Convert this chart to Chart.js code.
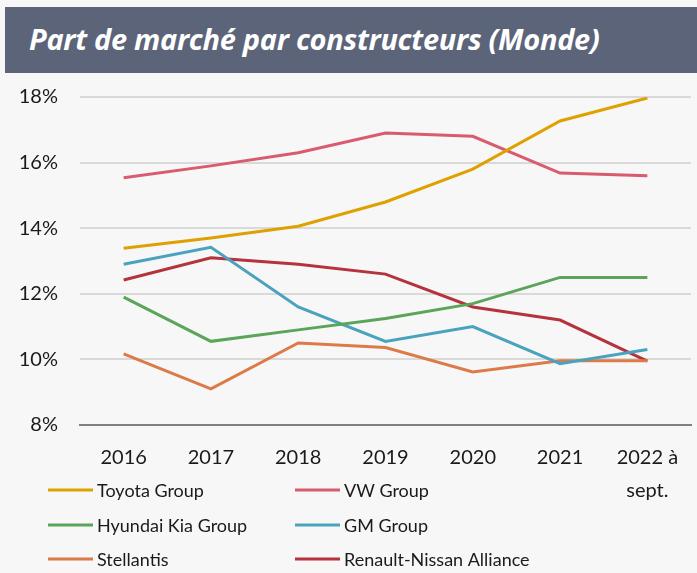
<!DOCTYPE html>
<html>
<head>
<meta charset="utf-8">
<script src="https://cdn.jsdelivr.net/npm/chart.js@4.4.0/dist/chart.umd.min.js"></script>
<style>
  body { margin: 0; background: #f7f7f7; width: 697px; height: 573px; overflow: hidden; }
  #title {
    position: absolute; left: 5px; top: 7px; width: 692px; height: 66px;
    background: #5b6479; color: #fff;
    font: italic 700 29px "Open Sans", sans-serif;
    line-height: 64px; padding-left: 24px; box-sizing: border-box;
    letter-spacing: -0.3px;
  }
  #wrap { position: absolute; left: 0; top: 73px; width: 697px; height: 500px; }
</style>
</head>
<body>
<div id="title">Part de marché par constructeurs (Monde)</div>
<div id="wrap"><canvas id="chart"></canvas></div>
<script>
const years = ['2016', '2017', '2018', '2019', '2020', '2021', ['2022 à', 'sept.']];
const toyota = [13.39, 13.7, 14.06, 14.8, 15.8, 17.27, 17.97];
const vw = [15.54, 15.9, 16.3, 16.9, 16.8, 15.68, 15.6];
const hyundaiKia = [11.9, 10.55, 10.9, 11.25, 11.7, 12.5, 12.5];
const gm = [12.9, 13.42, 11.6, 10.55, 11.0, 9.87, 10.3];
const stellantis = [10.17, 9.1, 10.5, 10.36, 9.62, 9.96, 9.96];
const renaultNissan = [12.42, 13.1, 12.9, 12.6, 11.6, 11.2, 9.95];

const FONT = 'Lato, "Open Sans", sans-serif';

function line(label, data, color) {
  return { label: label, data: data, borderColor: color, backgroundColor: color,
    borderWidth: 3, pointRadius: 0, tension: 0, fill: false };
}

// legend in two columns, like the original
const gridLegend = {
  id: 'gridLegend',
  afterDraw(chart) {
    const ctx = chart.ctx;
    const cols = [48, 295];
    const rows = [417, 452, 486];
    ctx.save();
    ctx.font = '18px ' + FONT;
    ctx.textBaseline = 'middle';
    ctx.fillStyle = '#1a1a1a';
    chart.data.datasets.forEach((ds, i) => {
      const x = cols[i % 2], y = rows[Math.floor(i / 2)];
      ctx.strokeStyle = ds.borderColor;
      ctx.lineWidth = 3;
      ctx.beginPath();
      ctx.moveTo(x, y);
      ctx.lineTo(x + 45, y);
      ctx.stroke();
      ctx.fillText(ds.label, x + 49, y + 1);
    });
    ctx.restore();
  }
};

new Chart(document.getElementById('chart'), {
  type: 'line',
  data: {
    labels: years,
    datasets: [
      line('Toyota Group', toyota, '#dfa100'),
      line('VW Group', vw, '#d95b6e'),
      line('Hyundai Kia Group', hyundaiKia, '#5aa55a'),
      line('GM Group', gm, '#4aa3bd'),
      line('Stellantis', stellantis, '#dd7b48'),
      line('Renault-Nissan Alliance', renaultNissan, '#b5333c')
    ]
  },
  options: {
    responsive: true,
    maintainAspectRatio: false,
    animation: false,
    layout: { padding: { top: 24, right: 6, left: 0, bottom: 0 } },
    plugins: { legend: { display: false }, tooltip: { enabled: false } },
    scales: {
      x: {
        offset: true,
        grid: { display: false, drawTicks: false },
        border: { display: true, color: '#808080', width: 2 },
        ticks: { color: '#1a1a1a', padding: 16, maxRotation: 0, autoSkip: false,
          font: { family: FONT, size: 20, lineHeight: 1.65 } },
        afterFit(scale) { scale.height = 148; }
      },
      y: {
        min: 8, max: 18,
        grid: { color: ctx => ctx.tick && ctx.tick.value === 8 ? 'rgba(0,0,0,0)' : '#d9d9d9',
          lineWidth: 2, drawTicks: false },
        border: { display: false },
        ticks: { stepSize: 2, color: '#1a1a1a', padding: 22,
          font: { family: FONT, size: 20 }, callback: v => v + '%' },
        afterFit(scale) {
          scale.width = 80;
          // tick padding would otherwise push the plot top down
          scale.paddingTop = 0;
          scale.paddingBottom = 0;
        }
      }
    }
  },
  plugins: [gridLegend]
});
</script>
</body>
</html>
